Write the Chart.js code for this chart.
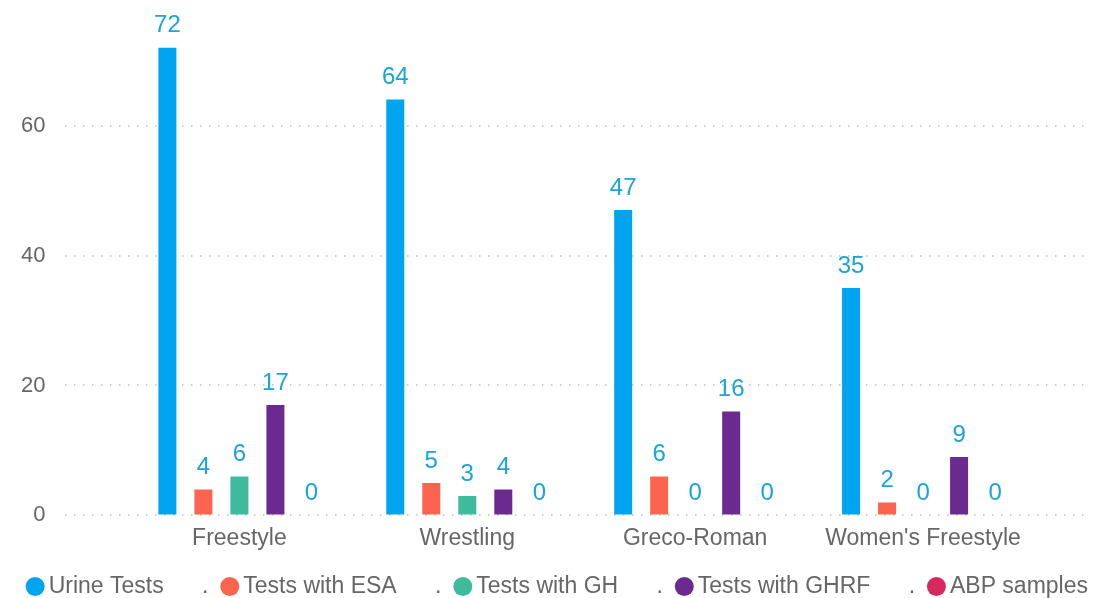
<!DOCTYPE html>
<html>
<head>
<meta charset="utf-8">
<script src="https://cdn.jsdelivr.net/npm/chart.js@4.4.1/dist/chart.umd.min.js"></script>
<style>
  html, body { margin: 0; padding: 0; background: #fff; }
  #wrap { width: 1094px; height: 598px; }
</style>
</head>
<body>
<div id="wrap"><canvas id="chart" width="1094" height="598"></canvas></div>
<script>
// data
const categories = ['Freestyle', 'Wrestling', 'Greco-Roman', "Women's Freestyle"];
const seriesNames = ['Urine Tests', 'Tests with ESA', 'Tests with GH', 'Tests with GHRF', 'ABP samples'];
const urineTests = [72, 64, 47, 35];
const testsESA = [4, 5, 6, 2];
const testsGH = [6, 3, 0, 0];
const testsGHRF = [17, 4, 16, 9];
const abpSamples = [0, 0, 0, 0];
const yTicks = [0, 20, 40, 60];

const colors = ['#01A4EF', '#FD6450', '#3DBB9C', '#6B2A90', '#D62A5E'];
const labelColor = '#17A5DC';
const textColor = '#666';
const fontFamily = '"Liberation Sans", Arial, sans-serif';

const allValues = [urineTests, testsESA, testsGH, testsGHRF, abpSamples];

// pull the category axis in from the plot edges (grid runs full width)
const insetX = {
  id: 'insetX',
  afterLayout(chart) {
    const xs = chart.scales.x;
    xs.left += 60;
    xs.right -= 53;
    xs.width = xs.right - xs.left;
    xs.configure();
  }
};

// value labels above each bar
const barLabels = {
  id: 'barLabels',
  afterDatasetsDraw(chart) {
    const ctx = chart.ctx;
    ctx.save();
    ctx.font = '24px ' + fontFamily;
    ctx.fillStyle = labelColor;
    ctx.textAlign = 'center';
    ctx.textBaseline = 'middle';
    chart.data.datasets.forEach((ds, i) => {
      chart.getDatasetMeta(i).data.forEach((bar, j) => {
        ctx.fillText(String(ds.data[j]), bar.x, bar.y - 22);
      });
    });
    ctx.restore();
  }
};

new Chart(document.getElementById('chart'), {
  type: 'bar',
  data: {
    labels: categories,
    datasets: seriesNames.map((name, i) => ({
      label: name,
      data: allValues[i],
      backgroundColor: colors[i],
      borderWidth: 0,
      barPercentage: 0.5,
      categoryPercentage: 0.79
    }))
  },
  options: {
    responsive: false,
    animation: false,
    layout: { padding: { left: 21, right: 4, top: 0, bottom: -10 } },
    plugins: {
      tooltip: { enabled: false },
      legend: {
        position: 'bottom',
        align: 'end',
        labels: {
          usePointStyle: true,
          pointStyle: 'circle',
          boxHeight: 13.4,
          boxWidth: 4,
          padding: 2,
          color: textColor,
          font: { family: fontFamily, size: 23 },
          generateLabels(chart) {
            const n = chart.data.datasets.length;
            return chart.data.datasets.map((ds, i) => ({
              text: ds.label + (i < n - 1 ? '      .  \u2009' : ''),
              fillStyle: ds.backgroundColor,
              strokeStyle: ds.backgroundColor,
              fontColor: textColor,
              lineWidth: 0,
              pointStyle: 'circle',
              hidden: false,
              datasetIndex: i
            }));
          }
        }
      }
    },
    scales: {
      x: {
        grid: { display: false, drawTicks: false },
        border: { display: false },
        ticks: { color: textColor, padding: 9, font: { family: fontFamily, size: 23 } },
        afterFit(scale) { scale.height += 12; }
      },
      y: {
        min: 0,
        max: 77.3,
        afterBuildTicks(scale) {
          scale.ticks = yTicks.map(v => ({ value: v }));
        },
        border: { display: false, dash: [1.5, 7.5] },
        grid: { color: '#cfcfcf', lineWidth: 2, drawTicks: true, tickLength: 20, tickColor: 'rgba(0,0,0,0)' },
        ticks: { color: textColor, padding: 0, font: { family: fontFamily, size: 22 } }
      }
    }
  },
  plugins: [insetX, barLabels]
});
</script>
</body>
</html>
